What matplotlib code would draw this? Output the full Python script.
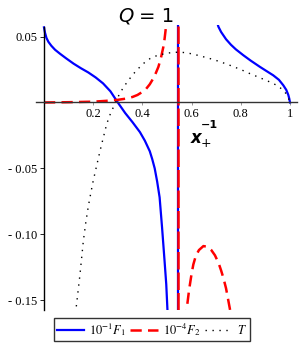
import numpy as np
import matplotlib.pyplot as plt

plt.rcParams['mathtext.fontset'] = 'stix'

# values (x, y)
f1_left_x = [0.0, 0.004, 0.01, 0.018, 0.03, 0.045, 0.065, 0.09, 0.12, 0.15, 0.18, 0.21,
             0.24, 0.27, 0.30, 0.33, 0.36, 0.39, 0.41, 0.43, 0.44, 0.45, 0.46, 0.47,
             0.48, 0.49, 0.497, 0.502, 0.504]
f1_left_y = [0.057, 0.053, 0.049, 0.046, 0.043, 0.040, 0.037, 0.0335, 0.0295, 0.026,
             0.0228, 0.019, 0.0145, 0.0085, 0.0, -0.008, -0.015, -0.0225, -0.029,
             -0.037, -0.043, -0.050, -0.060, -0.072, -0.095, -0.120, -0.138, -0.158,
             -0.165]
f1_right_x = [0.705, 0.709, 0.72, 0.74, 0.76, 0.78, 0.81, 0.84, 0.878, 0.91, 0.932,
              0.955, 0.973, 0.985, 0.993, 0.997, 1.0]
f1_right_y = [0.060, 0.0575, 0.0535, 0.048, 0.0438, 0.0403, 0.0359, 0.0318, 0.027,
              0.0232, 0.0206, 0.0172, 0.013, 0.0095, 0.0058, 0.003, 0.0]

f2_left_x = [0.0, 0.1, 0.2, 0.25, 0.3, 0.336, 0.36, 0.38, 0.40, 0.415, 0.43, 0.445,
             0.455, 0.465, 0.475, 0.485, 0.49, 0.495, 0.498, 0.5]
f2_left_y = [0.0, 0.0002, 0.0006, 0.0012, 0.002, 0.003, 0.0042, 0.0057, 0.008, 0.0103,
             0.0138, 0.0185, 0.0225, 0.027, 0.0335, 0.042, 0.048, 0.056, 0.062, 0.066]
f2_right_x = [0.575, 0.58, 0.59, 0.60, 0.607, 0.617, 0.63, 0.648, 0.665, 0.68, 0.695,
              0.71, 0.72, 0.729, 0.74, 0.75, 0.756, 0.76]
f2_right_y = [-0.166, -0.157, -0.142, -0.130, -0.123, -0.1165, -0.112, -0.109, -0.1095,
              -0.112, -0.116, -0.122, -0.1275, -0.133, -0.141, -0.151, -0.157, -0.162]

t_x = [0.128, 0.13, 0.138, 0.146, 0.153, 0.16, 0.17, 0.18, 0.19, 0.2, 0.214, 0.228,
       0.242, 0.255, 0.268, 0.282, 0.295, 0.31, 0.325, 0.343, 0.365, 0.39, 0.41, 0.431,
       0.45, 0.472, 0.5, 0.526, 0.55, 0.575, 0.593, 0.63, 0.675, 0.715, 0.756, 0.8,
       0.837, 0.88, 0.919, 0.95, 0.973, 0.985, 0.993, 1.0]
t_y = [-0.16, -0.157, -0.144, -0.131, -0.118, -0.105, -0.091, -0.079, -0.069, -0.0595,
       -0.048, -0.0366, -0.026, -0.0163, -0.0095, -0.0036, 0.002, 0.0075, 0.012, 0.0168,
       0.022, 0.027, 0.0305, 0.0333, 0.035, 0.0362, 0.0374, 0.038, 0.0382, 0.0378,
       0.0372, 0.0356, 0.0333, 0.031, 0.0282, 0.025, 0.0219, 0.0186, 0.0155, 0.0127,
       0.0092, 0.0065, 0.0038, 0.0]

asymptote_x = 0.545

xticks = [0.2, 0.4, 0.6, 0.8, 1.0]
xticklabels = ['0.2', '0.4', '0.6', '0.8', '1']
yticks = [0.05, -0.05, -0.10, -0.15]
yticklabels = ['0.05', '- 0.05', '- 0.10', '- 0.15']

W, H = 305, 348
fig = plt.figure(figsize=(W / 100, H / 100), dpi=100)
ax = fig.add_axes([36 / W, 1 - 310 / H, 261 / W, 285 / H])
ax.set_xlim(-0.0325, 1.0285)
ax.set_ylim(-0.1575, 0.0588)

blue = '#0000ff'
red = '#ff0000'

ax.axvline(asymptote_x, color=blue, lw=1.6)
ax.axvline(asymptote_x, color=red, lw=1.8, dashes=(7, 1.2))

l1, = ax.plot(f1_left_x, f1_left_y, color=blue, lw=1.6)
ax.plot(f1_right_x, f1_right_y, color=blue, lw=1.6)
l2, = ax.plot(f2_left_x, f2_left_y, color=red, lw=1.8, dashes=(4.5, 2.5))
ax.plot(f2_right_x, f2_right_y, color=red, lw=1.8, dashes=(4.5, 2.5))
l3, = ax.plot(t_x, t_y, color='black', lw=1.0, linestyle=(0, (1, 4)))

# axes through origin, Maple style
for s in ['top', 'right']:
    ax.spines[s].set_visible(False)
ax.spines['left'].set_position(('data', 0))
ax.spines['bottom'].set_position(('data', 0))
ax.spines['left'].set_bounds(-0.1575, 0.0575)
ax.spines['left'].set_linewidth(1.0)
ax.spines['bottom'].set_linewidth(1.0)
ax.spines['bottom'].set_color('#333333')

ax.set_xticks(xticks)
ax.set_xticklabels(xticklabels)
ax.set_yticks(yticks)
ax.set_yticklabels(yticklabels)
ax.tick_params(axis='both', labelsize=9, length=3, width=0.6, pad=2)
ax.tick_params(axis='x', length=2, colors='#888888', labelcolor='black')
for lab in ax.get_xticklabels() + ax.get_yticklabels():
    lab.set_family('Liberation Serif')

# title "Q = 1"
fig.text(134 / W, 1 - 22 / H, 'Q', fontsize=14, style='italic', ha='right',
         va='baseline', family='DejaVu Sans')
fig.text(139 / W, 1 - 22 / H, '= 1', fontsize=14, ha='left', va='baseline',
         family='DejaVu Sans')

# x_+^{-1} label
fig.text(191 / W, 1 - 143 / H, 'x', fontsize=12, style='italic', weight='bold',
         ha='left', va='baseline', family='DejaVu Sans')
fig.text(201 / W, 1 - 128 / H, '\u22121', fontsize=8, weight='bold',
         ha='left', va='baseline', family='DejaVu Sans')
fig.text(201 / W, 1 - 147 / H, '+', fontsize=9,
         ha='left', va='baseline', family='DejaVu Sans')

leg = fig.legend([l1, l2, l3], [r'$10^{-1}F_1$', r'$10^{-4}F_2$', r'$T$'],
                 loc='lower center', bbox_to_anchor=(152 / W, 7 / H), ncol=3,
                 fontsize=9, frameon=True, fancybox=False, edgecolor='#333333',
                 framealpha=1, handlelength=2.2, handletextpad=0.4,
                 columnspacing=0.35, borderpad=0.25, borderaxespad=0)
leg.get_frame().set_linewidth(1.0)

fig.savefig('out.png', dpi=100)
